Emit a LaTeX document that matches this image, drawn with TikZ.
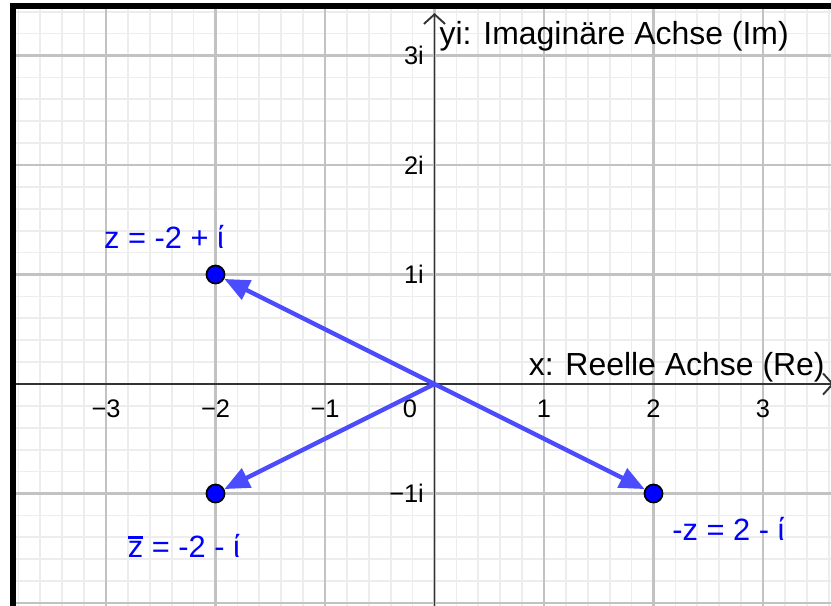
\documentclass[tikz,border=0pt]{standalone}
\usepackage{fontspec}
\setmainfont{Liberation Sans}
\usetikzlibrary{arrows.meta}
\newcommand{\barz}{\leavevmode\rlap{\rule[0.6em]{0.5em}{0.09em}}z}

\begin{document}
\begin{tikzpicture}[
    minorgrid/.style={black!7, line width=0.45pt},
    majorgrid/.style={black!24, line width=0.55pt},
    axisline/.style={black!80, line width=0.5pt, -{Straight Barb[length=2.5pt,width=5.5pt]}},
    vec/.style={blue!70, line width=1.15pt, -{Triangle[length=6.5pt,width=5.4pt]}},
    ptdot/.style={circle, fill=blue, draw=black, line width=0.45pt, inner sep=0pt, minimum size=0.165cm},
    ptlbl/.style={blue, anchor=base, font=\fontsize{8}{9}\selectfont},
    ticklbl/.style={font=\fontsize{6.6}{8}\selectfont, inner sep=0pt},
    axislbl/.style={anchor=base west, inner sep=0pt, font=\fontsize{8.3}{10}\selectfont}]
  \useasboundingbox (-3.968,-2.027) rectangle (3.621,3.507);
  \begin{scope}
    \clip (-3.852,-2.027) rectangle (3.621,3.452);
    \draw[minorgrid] (-4,-2.2) grid[step=0.2] (3.8,3.6);
    \draw[majorgrid] (-4,-3) grid[step=1] (4,4);
    \draw[axisline] (-3.9,0) -- (3.648,0);
    \draw[axisline] (0,-2.1) -- (0,3.388);
  \end{scope}
  \draw[line width=0.052cm, line join=miter] (-3.852,-2.1) -- (-3.852,3.452) -- (3.7,3.452);

  \node[axislbl] (relbl) at (0.854,0.082) {x: Reelle Achse (Re)};
  \node[axislbl] (imlbl) at (0.04,3.1) {yi: Imaginäre Achse (Im)};

  \foreach \k/\t [count=\n] in {-3/−3, -2/−2, -1/−1, 1/1, 2/2, 3/3}
    \node[ticklbl] (xt\n) at (\k,-0.228) {\t};
  \node[ticklbl] (xt0) at (-0.224,-0.228) {0};
  \foreach \k/\t [count=\n] in {3/3i, 2/2i, 1/1i, -1/−1i}
    \node[ticklbl, anchor=east] (yt\n) at (-0.09,\k) {\t};

  \coordinate (O) at (0,0);
  \node[ptdot] (z) at (-2,1) {};
  \node[ptdot] (zc) at (-2,-1) {};
  \node[ptdot] (zn) at (2,-1) {};
  \draw[vec] (O) -- (z);
  \draw[vec] (O) -- (zc);
  \draw[vec] (O) -- (zn);

  \node[ptlbl] (zlbl) at (-2.47,1.242) {z = -2 + ί};
  \node[ptlbl] (zclbl) at (-2.288,-1.58) {\barz{} = -2 - ί};
  \node[ptlbl] (znlbl) at (2.685,-1.425) {-z = 2 - ί};
\end{tikzpicture}
\end{document}
